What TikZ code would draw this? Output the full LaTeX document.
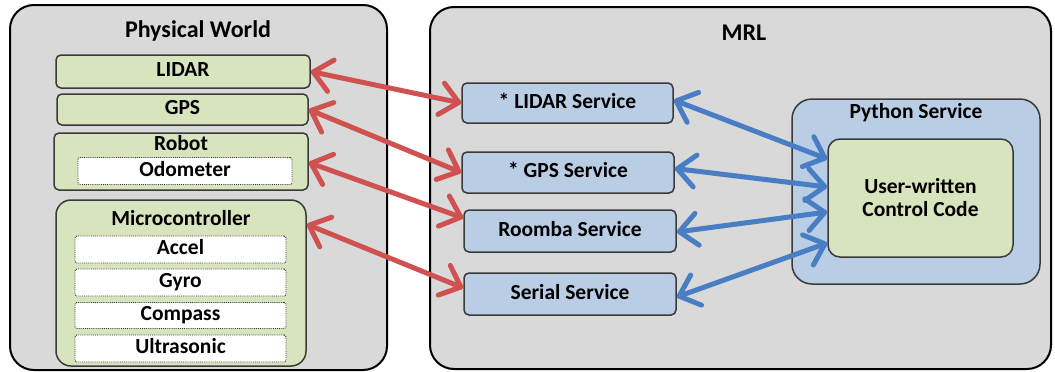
\documentclass[tikz,border=0pt]{standalone}
\usepackage{fontspec}
\setmainfont{Carlito}
\usetikzlibrary{arrows.meta,calc}
\definecolor{bggrey}{HTML}{D9D9D9}
\definecolor{boxgreen}{HTML}{D7E4BD}
\definecolor{boxblue}{HTML}{B9CDE5}
\definecolor{edgegrey}{HTML}{3A3A3A}
\definecolor{arrred}{HTML}{CF5250}
\definecolor{arrblue}{HTML}{4A7EC4}
\tikzset{
  x=1pt, y=-1pt,
  outer/.style={draw=black, line width=2pt, fill=bggrey, rounded corners=24pt, inner sep=0pt},
  title/.style={font=\bfseries\fontsize{24}{28}\selectfont, text height=15pt, text depth=5pt, inner sep=0pt},
  lab/.style={font=\bfseries\fontsize{21.5}{24}\selectfont, text height=14pt, text depth=4pt, inner sep=0pt},
  gbox/.style={lab, draw=edgegrey, line width=1.5pt, fill=boxgreen, rounded corners=5pt},
  bbox/.style={lab, draw=edgegrey, line width=1.5pt, fill=boxblue, rounded corners=5pt},
  dbox/.style={lab, draw=edgegrey, line width=0.9pt, densely dotted, fill=white, rounded corners=2pt},
  codebox/.style={draw=edgegrey, line width=1.5pt, fill=boxgreen, rounded corners=12pt, inner sep=0pt,
    font=\bfseries\fontsize{21.5}{23}\selectfont, align=center},
  tip/.style={Straight Barb[length=18pt,width=32pt,round]},
  rarr/.style={draw=arrred, line width=5pt, {Straight Barb[length=18pt,width=32pt,round]}-{Straight Barb[length=18pt,width=32pt,round]}},
  barr/.style={draw=arrblue, line width=5pt, {Straight Barb[length=18pt,width=32pt,round]}-{Straight Barb[length=18pt,width=32pt,round]}}
}
\begin{document}
\begin{tikzpicture}
\useasboundingbox (0,0) rectangle (1055,372);
% outer containers
\node[outer, minimum width=377pt, minimum height=365pt] (pw) at (198.5,187.5) {};
\node[title] (pwt) at (198,32) {Physical World};
\node[outer, minimum width=621pt, minimum height=362pt] (mrl) at (740.5,188) {};
\node[title] (mrlt) at (744,35) {MRL};
% physical world items
\node[gbox, minimum width=254pt, minimum height=33pt] (lidar) at (183,71.5) {LIDAR};
\node[gbox, minimum width=251pt, minimum height=31pt] (gps) at (182.5,109.5) {GPS};
\node[gbox, minimum width=254pt, minimum height=57pt] (robot) at (181,161.5) {};
\node[lab] (robott) at (181,145) {Robot};
\node[dbox, minimum width=214pt, minimum height=27pt] (odo) at (185,171) {Odometer};
\node[gbox, rounded corners=15pt, minimum width=250pt, minimum height=166pt] (micro) at (181,283) {};
\node[lab] (microt) at (181,220) {Microcontroller};
\node[dbox, minimum width=211pt, minimum height=27pt] (accel) at (180.5,249.5) {Accel};
\node[dbox, minimum width=211pt, minimum height=27pt] (gyro) at (180.5,282.5) {Gyro};
\node[dbox, minimum width=211pt, minimum height=26pt] (compass) at (180.5,315.5) {Compass};
\node[dbox, minimum width=211pt, minimum height=27pt] (ultra) at (180.5,348.5) {Ultrasonic};
% MRL services
\node[bbox, minimum width=211pt, minimum height=40pt] (lidarS) at (567.5,103) {* LIDAR Service};
\node[bbox, minimum width=212pt, minimum height=41pt] (gpsS) at (568,172.5) {* GPS Service};
\node[bbox, minimum width=212pt, minimum height=42pt] (roombaS) at (570,231) {Roomba Service};
\node[bbox, minimum width=212pt, minimum height=42pt] (serialS) at (570,294) {Serial Service};
\node[bbox, rounded corners=20pt, minimum width=248pt, minimum height=185pt] (python) at (916,191.5) {};
\node[lab] (pythont) at (916,113) {Python Service};
\node[codebox, minimum width=185pt, minimum height=118pt] (code) at (920.5,198) {User-written\\Control Code};
% red arrows
\draw[rarr] (lidar.east) -- (lidarS.west);
\draw[rarr] (gps.east) -- (gpsS.west);
\draw[rarr] ([yshift=-1pt]robot.east) -- ([yshift=13pt]roombaS.west);
\draw[rarr] ([yshift=-25pt]micro.north east) -- ([yshift=6pt]serialS.west);
% blue arrows
\draw[barr] ([yshift=3pt]lidarS.east) -- ([yshift=39pt]code.west);
\draw[barr] ([yshift=4pt]gpsS.east) -- ([yshift=11pt]code.west);
\draw[barr] ([yshift=-1pt]roombaS.east) -- ([yshift=-14pt]code.west);
\draw[barr] ([yshift=-3pt]serialS.east) -- ([yshift=-45pt]code.west);
\end{tikzpicture}
\end{document}
